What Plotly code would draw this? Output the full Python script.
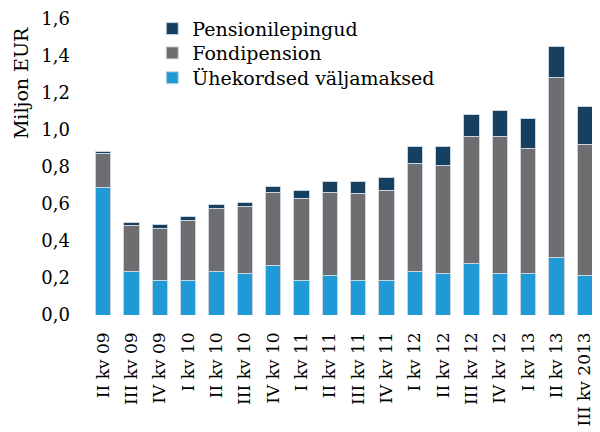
import plotly.graph_objects as go

categories = ["II kv 09", "III kv 09", "IV kv 09", "I kv 10", "II kv 10", "III kv 10",
              "IV kv 10", "I kv 11", "II kv 11", "III kv 11", "IV kv 11", "I kv 12",
              "II kv 12", "III kv 12", "IV kv 12", "I kv 13", "II kv 13", "III kv 2013"]
uhekordsed = [0.69, 0.234, 0.188, 0.188, 0.234, 0.223, 0.266, 0.188, 0.212, 0.188, 0.188,
              0.234, 0.223, 0.277, 0.223, 0.223, 0.312, 0.212]
fondipension = [0.184, 0.251, 0.278, 0.323, 0.342, 0.362, 0.398, 0.443, 0.452, 0.467, 0.487,
                0.587, 0.585, 0.688, 0.742, 0.675, 0.972, 0.710]
pensionilepingud = [0.011, 0.013, 0.023, 0.021, 0.023, 0.025, 0.032, 0.044, 0.056, 0.065, 0.067,
                    0.088, 0.101, 0.119, 0.142, 0.164, 0.166, 0.205]
y_ticks = [0.0, 0.2, 0.4, 0.6, 0.8, 1.0, 1.2, 1.4, 1.6]

FONT = "DejaVu Serif"
line = dict(color="#c9d5df", width=1)

fig = go.Figure()
fig.add_trace(go.Bar(x=categories, y=uhekordsed, name="Ühekordsed väljamaksed",
                     legend="legend3", marker=dict(color="#1f9ad6", line=line)))
fig.add_trace(go.Bar(x=categories, y=fondipension, name="Fondipension",
                     legend="legend2", marker=dict(color="#6e6e70", line=line)))
fig.add_trace(go.Bar(x=categories, y=pensionilepingud, name="Pensionilepingud",
                     legend="legend", marker=dict(color="#173f5f", line=line)))


def leg(yc):
    return dict(x=0.124, y=yc, xanchor="left", yanchor="middle",
                bgcolor="rgba(0,0,0,0)", borderwidth=0,
                font=dict(family=FONT, size=19, color="black"), itemwidth=30)


# page body has an 8px default margin, so the figure is 8px smaller
fig.update_layout(
    barmode="stack",
    bargap=0.47,
    width=592, height=424,
    margin=dict(l=81, r=1, t=11, b=117, autoexpand=False),
    paper_bgcolor="white", plot_bgcolor="white",
    separators=",.",
    font=dict(family=FONT, color="black", size=18),
    showlegend=True,
    legend=leg(0.967),
    legend2=leg(0.885),
    legend3=leg(0.801),
    xaxis=dict(tickangle=-90, showline=False, ticks="", showgrid=False,
               range=[-0.5, 17.5],
               tickfont=dict(family=FONT, size=17), ticklabelstandoff=13),
    yaxis=dict(range=[0, 1.6], tickvals=y_ticks, tickformat=".1f", showgrid=False,
               showline=False, zeroline=False, ticks="",
               tickfont=dict(family=FONT, size=18), ticklabelstandoff=18),
    annotations=[dict(text="Miljon EUR", textangle=-90, x=-0.133, y=0.784,
                      xanchor="center", yanchor="middle",
                      xref="paper", yref="paper", showarrow=False,
                      font=dict(family=FONT, size=19, color="black"))],
)

fig.write_html("out.html")
